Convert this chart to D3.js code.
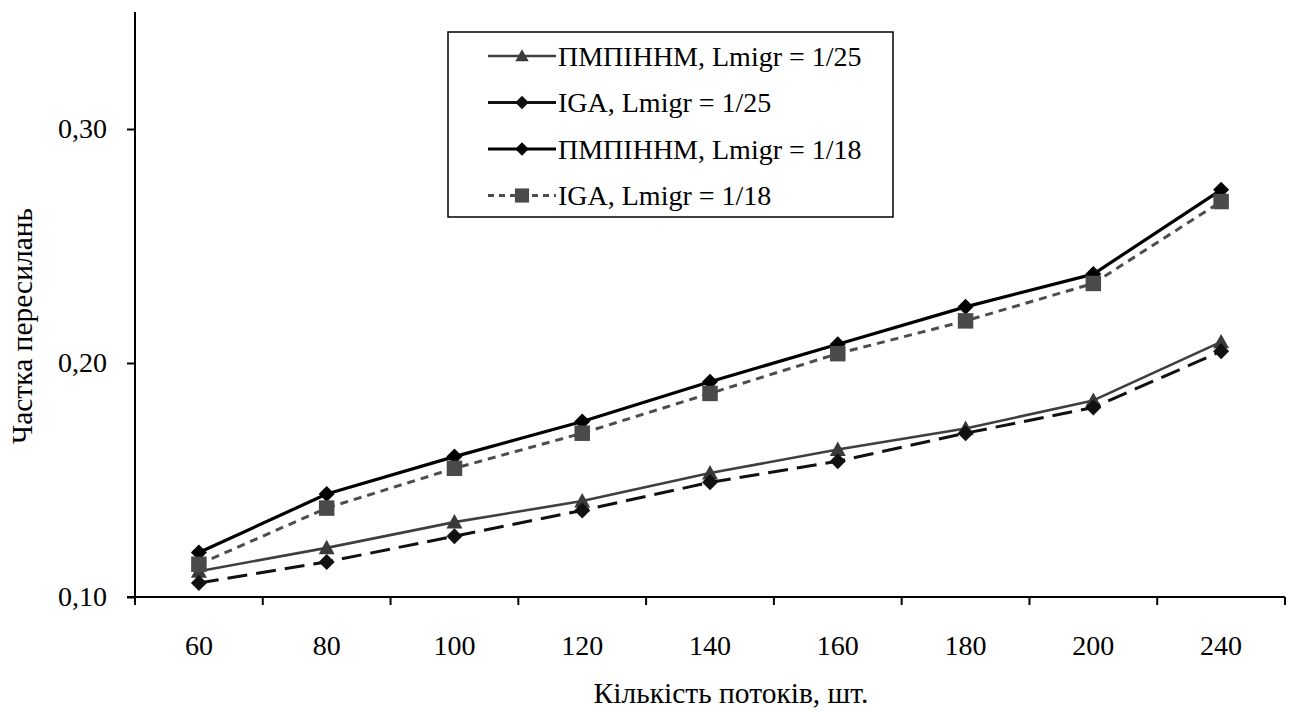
<!DOCTYPE html>
<html>
<head>
<meta charset="utf-8">
<script src="https://cdn.jsdelivr.net/npm/d3@7/dist/d3.min.js"></script>
<style>
  html, body { margin: 0; padding: 0; background: #fff; }
  svg { display: block; }
  svg text { font-family: "Liberation Serif", "DejaVu Serif", serif; fill: #000; }
</style>
</head>
<body>
<svg id="chart" width="1295" height="711"></svg>
<script>
// Number of flows (x categories)
const categories = ["60", "80", "100", "120", "140", "160", "180", "200", "240"];

// Share of retransmissions per series
const pmpinnm25 = [0.111, 0.121, 0.132, 0.141, 0.153, 0.163, 0.172, 0.184, 0.209];
const iga25     = [0.106, 0.115, 0.126, 0.137, 0.149, 0.158, 0.170, 0.181, 0.205];
const pmpinnm18 = [0.119, 0.144, 0.160, 0.175, 0.192, 0.208, 0.224, 0.238, 0.274];
const iga18     = [0.114, 0.138, 0.155, 0.170, 0.187, 0.204, 0.218, 0.234, 0.269];

const seriesNames = [
  "ПМПІННМ, Lmigr = 1/25",
  "IGA, Lmigr = 1/25",
  "ПМПІННМ, Lmigr = 1/18",
  "IGA, Lmigr = 1/18"
];

const yTicks = [0.10, 0.20, 0.30];
const yDomain = [0.10, 0.35];
const xTitle = "Кількість потоків, шт.";
const yTitle = "Частка пересилань";

(function () {
  const serif = "'Liberation Serif', 'DejaVu Serif', serif";

  // Marker shapes
  const diamond = {
    draw(ctx, size) {
      const r = Math.sqrt(size) / 2;
      ctx.moveTo(0, -r); ctx.lineTo(r, 0); ctx.lineTo(0, r); ctx.lineTo(-r, 0); ctx.closePath();
    }
  };
  const square = {
    draw(ctx, size) {
      const r = Math.sqrt(size) / 2;
      ctx.rect(-r, -r, 2 * r, 2 * r);
    }
  };
  const triangle = {
    draw(ctx, size) {
      const r = Math.sqrt(size) / 2;
      ctx.moveTo(0, -r); ctx.lineTo(r, r * 0.8); ctx.lineTo(-r, r * 0.8); ctx.closePath();
    }
  };

  const series = [
    { name: seriesNames[0], values: pmpinnm25, color: "#3f3f3f", width: 2.6, dash: null,   legendDash: null,  shape: triangle, size: 256, mcolor: "#3a3a3a" },
    { name: seriesNames[1], values: iga25,     color: "#111111", width: 3,   dash: "20,9", legendDash: null,  shape: diamond,  size: 256, mcolor: "#111111" },
    { name: seriesNames[2], values: pmpinnm18, color: "#000000", width: 3.2, dash: null,   legendDash: null,  shape: diamond,  size: 256, mcolor: "#000000" },
    { name: seriesNames[3], values: iga18,     color: "#4d4d4d", width: 3,   dash: "8,6",  legendDash: "6,5", shape: square,   size: 240, mcolor: "#4a4a4a" }
  ];

  const svg = d3.select("#chart");
  const plotLeft = 135, plotRight = 1285, plotTop = 12, plotBottom = 597;

  const x = d3.scaleBand().domain(categories).range([plotLeft, plotRight]).padding(0);
  const y = d3.scaleLinear().domain(yDomain).range([plotBottom, plotTop]);
  const cx = d => x(d) + x.bandwidth() / 2;

  // Y axis
  const yAxis = d3.axisLeft(y)
    .tickValues(yTicks)
    .tickSize(8)
    .tickPadding(20)
    .tickFormat(d => d3.format(".2f")(d).replace(".", ","));
  const gy = svg.append("g").attr("transform", `translate(${plotLeft},0)`).call(yAxis)
    .attr("font-family", serif).attr("font-size", 28);
  gy.select(".domain").attr("stroke", "#000").attr("stroke-width", 2).attr("d", `M0,${plotTop}V${plotBottom}`);
  gy.selectAll(".tick line").attr("stroke", "#000").attr("stroke-width", 2);
  gy.selectAll(".tick text").attr("fill", "#000");

  // X axis: line, ticks at category boundaries, labels centred in each band
  const gx = svg.append("g").attr("font-family", serif);
  gx.append("line").attr("x1", plotLeft - 8).attr("x2", plotRight).attr("y1", plotBottom).attr("y2", plotBottom)
    .attr("stroke", "#000").attr("stroke-width", 2);
  const bounds = categories.map(c => x(c)).concat([plotRight]);
  gx.selectAll("line.tk").data(bounds).join("line").attr("class", "tk")
    .attr("x1", d => d).attr("x2", d => d).attr("y1", plotBottom).attr("y2", plotBottom + 8)
    .attr("stroke", "#000").attr("stroke-width", 2);
  gx.selectAll("text").data(categories).join("text")
    .attr("x", d => cx(d)).attr("y", 645).attr("dy", "0.35em")
    .attr("text-anchor", "middle").attr("font-size", 28).text(d => d);

  // Axis titles
  svg.append("text").attr("x", 731).attr("y", 703)
    .attr("font-family", serif).attr("text-anchor", "middle").attr("font-size", 29.5).text(xTitle);
  svg.append("text").attr("transform", "translate(22,326) rotate(-90)").attr("dy", "0.35em")
    .attr("font-family", serif).attr("text-anchor", "middle").attr("font-size", 29.5).text(yTitle);

  // Series lines and markers
  const line = d3.line().x((d, i) => cx(categories[i])).y(d => y(d));
  series.forEach(s => {
    const g = svg.append("g");
    g.append("path").datum(s.values).attr("d", line)
      .attr("fill", "none").attr("stroke", s.color).attr("stroke-width", s.width)
      .attr("stroke-dasharray", s.dash).attr("stroke-linejoin", "round");
    g.selectAll("path.m").data(s.values).join("path").attr("class", "m")
      .attr("transform", (d, i) => `translate(${cx(categories[i])},${y(d)})`)
      .attr("d", d3.symbol().type(s.shape).size(s.size)())
      .attr("fill", s.mcolor);
  });

  // Legend
  const lg = svg.append("g").attr("font-family", serif);
  lg.append("rect").attr("x", 448).attr("y", 32).attr("width", 445).attr("height", 185)
    .attr("fill", "#fff").attr("stroke", "#000").attr("stroke-width", 1.5);
  series.forEach((s, i) => {
    const yy = 56 + i * 46.5;
    lg.append("line").attr("x1", 488).attr("x2", 556).attr("y1", yy).attr("y2", yy)
      .attr("stroke", s.color).attr("stroke-width", s.width).attr("stroke-dasharray", s.legendDash);
    lg.append("path").attr("transform", `translate(522,${yy})`)
      .attr("d", d3.symbol().type(s.shape).size(s.shape === square ? 200 : 180)())
      .attr("fill", s.mcolor);
    lg.append("text").attr("x", 558).attr("y", yy).attr("dy", "0.35em")
      .attr("font-size", 28).text(s.name);
  });
})();
</script>
</body>
</html>
